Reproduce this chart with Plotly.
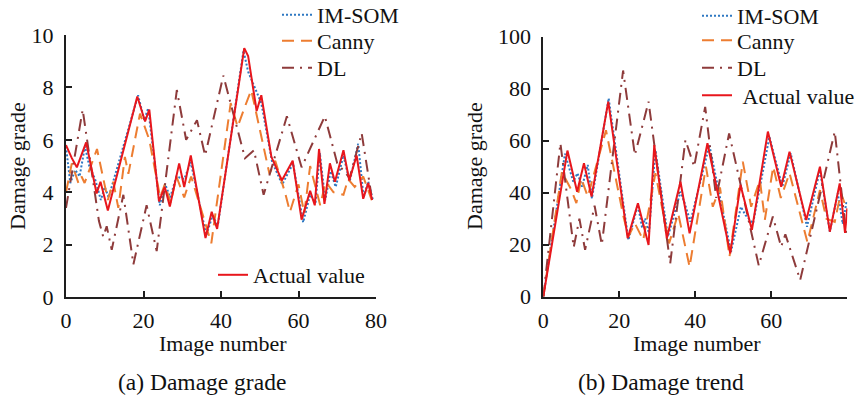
import plotly.graph_objects as go

# ---------------- (a) Damage grade ----------------
a_actual_x = [0, 1.5, 2.8, 5.2, 7.9, 8.9, 10.8, 18.4, 20.4, 21.5, 24.0, 25.5, 26.8, 29.2, 30.5, 32.2, 36.0, 37.6, 39.0,
              46.0, 47.0, 49.2, 50.4, 53.0, 55.7, 58.5, 60.8, 63.0, 64.2, 65.3, 66.7, 68.1, 69.4, 71.6, 73.1, 75.0,
              76.7, 78.0, 79.0]
a_actual_y = [5.8, 5.3, 4.95, 5.9, 3.95, 4.4, 3.3, 7.65, 6.7, 7.15, 3.65, 4.2, 3.45, 5.1, 4.2, 5.4, 2.25, 3.25, 2.6,
              9.5, 9.2, 7.1, 7.7, 5.35, 4.45, 5.2, 2.95, 4.05, 3.5, 5.65, 3.55, 5.1, 4.4, 5.6, 4.45, 5.4,
              3.75, 4.35, 3.7]

a_som_x = [0, 1.1, 2.4, 3.5, 4.9, 6.0, 7.5, 9.0, 10.0, 11.0, 18.6, 20.2, 21.2, 24.2, 25.6, 26.9, 28.5, 30.5, 32.2,
           36.2, 37.8, 39.2, 45.8, 47.0, 50.4, 53.2, 55.8, 58.6, 61.2, 63.0, 64.4, 65.5, 66.9, 68.3, 69.6, 71.6,
           73.2, 75.4, 76.8, 78.0, 79.2]
a_som_y = [5.75, 4.35, 4.85, 4.6, 5.75, 5.0, 4.5, 3.7, 4.2, 3.8, 7.7, 6.75, 7.2, 3.5, 4.3, 3.8, 4.6, 4.5, 5.15,
           2.35, 3.1, 2.75, 9.4, 8.6, 7.4, 5.15, 4.3, 5.1, 2.85, 3.9, 3.6, 5.5, 3.7, 4.8, 4.2, 5.4,
           4.4, 5.85, 3.8, 4.4, 3.7]

a_canny_x = [0, 1.5, 3.2, 4.0, 4.8, 8.0, 10.8, 12.2, 13.5, 15.2, 16.1, 19.1, 21.5, 24.3, 25.5, 27.0, 28.5, 30.5,
             32.3, 34.5, 37.5, 42.5, 44.3, 46.0, 47.8, 52.5, 54.0, 56.5, 57.8, 60.0, 61.5, 63.0, 64.3, 65.6, 67.0,
             69.0, 71.6, 72.8, 74.5, 76.7, 78.9]
a_canny_y = [4.0, 5.1, 4.35, 4.6, 4.35, 5.65, 3.7, 4.4, 3.4, 5.35, 4.7, 7.0, 6.0, 3.8, 4.3, 3.6, 4.6, 3.8,
             4.6, 3.5, 2.05, 7.4, 6.5, 7.2, 7.9, 4.7, 5.2, 4.0, 3.25, 4.3, 3.2, 5.0, 4.3, 3.5, 4.4,
             4.0, 3.9, 4.5, 4.2, 4.6, 3.7]

a_dl_x = [0, 4.3, 8.5, 9.6, 10.5, 11.8, 14.8, 17.4, 20.8, 23.4, 28.6, 31.0, 33.8, 35.9, 40.6, 46.2, 48.5, 51.0,
          57.0, 60.8, 66.8, 70.0, 73.2, 76.3, 78.8]
a_dl_y = [3.4, 7.15, 2.9, 2.3, 2.7, 1.8, 3.9, 1.25, 3.5, 1.75, 7.9, 6.0, 6.75, 5.4, 8.45, 5.3, 5.6, 3.9,
          6.9, 4.95, 6.9, 5.1, 4.55, 6.25, 3.9]

# ---------------- (b) Damage trend ----------------
b_actual_x = [0, 6.35, 8.9, 10.7, 12.7, 17.1, 22.2, 24.9, 27.7, 29.2, 32.5, 36.1, 38.5, 43.2, 49.2, 51.9, 54.9,
              59.1, 62.6, 64.8, 69.2, 72.8, 75.4, 78.0, 79.4, 80.0]
b_actual_y = [0, 56.2, 40.4, 51.3, 38.5, 75.0, 22.5, 35.9, 19.9, 58.3, 22.5, 44.2, 24.4, 59.0, 16.7, 43.0, 25.7,
              63.5, 42.3, 55.8, 29.5, 50.0, 25.0, 43.6, 24.5, 34.0]

b_som_x = [0, 5.7, 7.9, 9.0, 10.2, 11.7, 12.8, 17.2, 22.4, 24.9, 26.0, 26.8, 27.8, 29.5, 32.8, 36.1, 37.2, 38.7,
           43.7, 49.4, 52.0, 53.2, 55.2, 59.5, 62.9, 65.1, 69.4, 72.8, 75.4, 77.5, 78.8, 79.8]
b_som_y = [0, 55.0, 44.2, 47.5, 42.3, 50.7, 37.8, 76.3, 21.8, 35.3, 26.5, 30.1, 24.4, 56.4, 23.1, 40.4, 36.0, 28.8,
           58.3, 17.3, 34.6, 31.4, 28.2, 61.5, 42.3, 55.2, 26.9, 48.7, 25.0, 39.8, 28.0, 36.5]

b_canny_x = [0, 4.9, 7.4, 8.7, 10.0, 11.7, 16.5, 21.1, 22.4, 24.1, 26.3, 29.5, 33.1, 35.5, 38.5, 42.8, 44.6,
             46.5, 49.0, 52.5, 54.7, 57.0, 58.3, 60.5, 62.5, 64.8, 69.5, 72.8, 74.5, 76.7, 78.3, 80.0]
b_canny_y = [0, 48.0, 41.0, 36.0, 45.5, 38.5, 64.0, 30.8, 23.1, 28.2, 21.8, 47.5, 20.5, 32.0, 11.5, 50.0, 34.6,
             42.0, 15.4, 51.9, 34.6, 44.9, 29.6, 50.0, 38.0, 47.5, 21.0, 41.0, 30.0, 28.8, 40.0, 33.0]

b_dl_x = [0, 4.5, 8.0, 9.5, 11.0, 13.5, 15.4, 21.0, 24.1, 27.7, 33.4, 37.4, 39.7, 42.6, 45.5, 48.9, 56.7, 60.4,
          62.6, 63.7, 67.6, 76.7, 79.8]
b_dl_y = [0, 59.0, 19.0, 30.0, 18.0, 35.0, 20.0, 87.0, 54.5, 75.0, 12.8, 60.3, 50.0, 73.0, 38.0, 62.8, 12.0, 30.8,
          19.2, 24.0, 6.4, 63.5, 23.0]

names = ["IM-SOM", "Canny", "DL", "Actual value"]
x_ticks_a = [0, 20, 40, 60, 80]
x_ticks_b = [0, 20, 40, 60, 80]
x_ticktext_b = ["0", "20", "40", "60", ""]

C_SOM = "#2E78C2"
C_CANNY = "#ED7D31"
C_DL = "#8E3B3B"
C_ACT = "#E8161C"
FONT = "Liberation Serif"
FS = 22
W, H = 861, 397

fig = go.Figure()

def add(x, y, name, color, dash, xa, ya, legend):
    fig.add_trace(go.Scatter(x=x, y=y, name=name, mode="lines", xaxis=xa, yaxis=ya, showlegend=True,
                             line=dict(color=color, width=2, dash=dash), legend=legend))

DASH_SOM = "2px,2px"
DASH_CANNY = "12px,7px"
DASH_DL = "12px,6px,2px,6px"

add(a_som_x, a_som_y, names[0], C_SOM, DASH_SOM, "x", "y", "legend")
add(a_canny_x, a_canny_y, names[1], C_CANNY, DASH_CANNY, "x", "y", "legend2")
add(a_dl_x, a_dl_y, names[2], C_DL, DASH_DL, "x", "y", "legend3")
add(a_actual_x, a_actual_y, names[3], C_ACT, "solid", "x", "y", "legend4")

add(b_som_x, b_som_y, names[0], C_SOM, DASH_SOM, "x2", "y2", "legend5")
add(b_canny_x, b_canny_y, names[1], C_CANNY, DASH_CANNY, "x2", "y2", "legend6")
add(b_dl_x, b_dl_y, names[2], C_DL, DASH_DL, "x2", "y2", "legend7")
add(b_actual_x, b_actual_y, "\u00a0" + names[3], C_ACT, "solid", "x2", "y2", "legend8")

axis_common = dict(showline=True, linewidth=2, linecolor="#1e1e1e", ticks="inside", ticklen=6,
                   tickwidth=2, tickcolor="#1e1e1e", showgrid=False, zeroline=False, automargin=False,
                   tickfont=dict(family=FONT, size=FS, color="#111"))

def px(v):
    return v / W

def py(v):
    return 1 - v / H

def leg(xl, ytop):
    return dict(x=px(xl), y=py(ytop), xanchor="left", yanchor="top", bgcolor="rgba(0,0,0,0)",
                font=dict(family=FONT, size=FS, color="#111"), itemwidth=30, visible=True)

fig.update_layout(
    template="none",
    showlegend=True,
    width=W, height=H,
    margin=dict(l=0, r=0, t=0, b=0, autoexpand=False),
    paper_bgcolor="white", plot_bgcolor="white",
    font=dict(family=FONT, size=FS, color="#111"),
    xaxis=dict(domain=[px(66), px(376)], range=[0, 80], tickvals=x_ticks_a, anchor="y",
               ticklabelstandoff=3, **axis_common),
    yaxis=dict(domain=[py(297), py(35)], range=[0, 10], dtick=2, anchor="x",
               ticklabelstandoff=6, **axis_common),
    xaxis2=dict(domain=[px(543.3), px(847.3)], range=[0, 80], tickvals=x_ticks_b, ticktext=x_ticktext_b,
                anchor="y2", ticklabelstandoff=3, **axis_common),
    yaxis2=dict(domain=[py(296.7), py(36.7)], range=[0, 100], dtick=20, anchor="x2",
                ticklabelstandoff=6, **axis_common),
    legend=leg(277, -6),
    legend2=leg(277, 20),
    legend3=leg(277, 47),
    legend4=leg(213, 254),
    legend5=leg(697, -5),
    legend6=leg(697, 19.5),
    legend7=leg(697, 47),
    legend8=leg(697, 74.5),
)

annots = [
    ("Damage grade", 17, 166, -90, FS),
    ("Image number", 223, 343, 0, FS),
    ("(a) Damage grade", 202, 382, 0, 23.5),
    ("Damage grade", 474, 166, -90, FS),
    ("Image number", 697, 343, 0, FS),
    ("(b) Damage trend", 661, 382, 0, 23.5),
]
for text, xx, yy, ang, fs in annots:
    fig.add_annotation(text=text, x=px(xx), y=py(yy), xref="paper", yref="paper",
                       xanchor="center", yanchor="middle", showarrow=False, textangle=ang,
                       font=dict(family=FONT, size=fs, color="#111"))

fig.write_html("out.html")
